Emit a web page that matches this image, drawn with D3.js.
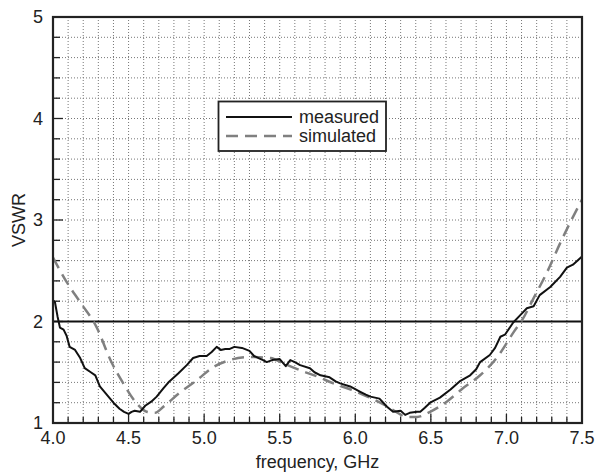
<!DOCTYPE html>
<html><head><meta charset="utf-8">
<script src="https://cdn.jsdelivr.net/npm/d3@7"></script>
<style>body{margin:0;background:#fff;}svg{display:block;font-family:"Liberation Sans",Arial,sans-serif;}</style>
</head><body>
<svg id="c" width="597" height="472"></svg>
<script>
const measuredFreq = [4.00,4.013,4.03,4.046,4.07,4.09,4.11,4.146,4.18,4.21,4.25,4.28,4.31,4.35,4.40,4.44,4.47,4.50,4.52,4.54,4.576,4.61,4.65,4.686,4.73,4.77,4.83,4.885,4.927,4.97,5.017,5.05,5.083,5.11,5.14,5.17,5.20,5.25,5.30,5.33,5.36,5.39,5.414,5.45,5.50,5.54,5.57,5.60,5.635,5.70,5.73,5.77,5.83,5.87,5.90,5.966,6.03,6.07,6.10,6.16,6.21,6.25,6.30,6.33,6.36,6.41,6.43,6.46,6.495,6.56,6.63,6.69,6.76,6.80,6.826,6.89,6.925,6.96,6.99,7.045,7.09,7.135,7.18,7.22,7.29,7.355,7.40,7.44,7.50];
const measuredVSWR = [2.21,2.19,2.05,1.94,1.92,1.86,1.75,1.72,1.64,1.54,1.50,1.47,1.36,1.29,1.20,1.14,1.11,1.09,1.11,1.12,1.11,1.17,1.21,1.26,1.34,1.41,1.49,1.57,1.64,1.66,1.66,1.70,1.75,1.72,1.73,1.73,1.75,1.74,1.71,1.66,1.64,1.62,1.60,1.62,1.63,1.56,1.62,1.60,1.57,1.54,1.50,1.47,1.45,1.41,1.39,1.36,1.31,1.28,1.26,1.24,1.16,1.11,1.12,1.08,1.10,1.11,1.11,1.15,1.20,1.25,1.33,1.41,1.47,1.53,1.60,1.67,1.74,1.85,1.87,1.99,2.06,2.13,2.15,2.26,2.34,2.44,2.53,2.56,2.64];
const simulatedFreq = [4.00,4.09,4.18,4.29,4.38,4.465,4.55,4.62,4.675,4.73,4.84,4.95,5.06,5.17,5.30,5.44,5.52,5.635,5.745,5.855,5.97,6.08,6.19,6.27,6.34,6.41,6.495,6.605,6.71,6.826,6.94,7.05,7.11,7.18,7.27,7.355,7.42,7.50];
const simulatedVSWR = [2.63,2.39,2.19,1.94,1.62,1.39,1.20,1.11,1.10,1.16,1.30,1.42,1.55,1.62,1.65,1.64,1.59,1.52,1.46,1.39,1.33,1.26,1.18,1.11,1.06,1.06,1.11,1.21,1.34,1.47,1.65,1.90,2.03,2.23,2.49,2.77,2.97,3.20];
const xTickLabels = ["4.0","4.5","5.0","5.5","6.0","6.5","7.0","7.5"];
const yTickLabels = ["1","2","3","4","5"];
const refLine = 2;
const legendLabels = ["measured","simulated"];

const L=53, R=582, T=17, B=423;
const svg = d3.select("#c");
const x = d3.scaleLinear().domain([4,7.5]).range([L,R]);
const y = d3.scaleLinear().domain([1,5]).range([B,T]);

// grid
const xMinor = d3.range(41,75).map(d=>d/10);
const yMinor = d3.range(6,25).map(d=>d/5);
const g = svg.append("g");
g.selectAll(".vx").data(xMinor).enter().append("line")
  .attr("x1",d=>x(d)).attr("x2",d=>x(d)).attr("y1",T).attr("y2",B)
  .attr("stroke","#777").attr("stroke-width",1).attr("stroke-dasharray","1,2");
g.selectAll(".hy").data(yMinor).enter().append("line")
  .attr("x1",L).attr("x2",R).attr("y1",d=>y(d)).attr("y2",d=>y(d))
  .attr("stroke","#777").attr("stroke-width",1).attr("stroke-dasharray","1,2");

// ticks inside
g.selectAll(".tx").data(xMinor).enter().append("line")
  .attr("x1",d=>x(d)).attr("x2",d=>x(d)).attr("y1",B).attr("y2",d=>Math.abs(d*2-Math.round(d*2))<1e-6?B-9:B-6)
  .attr("stroke","#222").attr("stroke-width",1.3);
g.selectAll(".ty").data(yMinor).enter().append("line")
  .attr("x1",L).attr("x2",d=>Math.abs(d-Math.round(d))<1e-6?L+10:L+7).attr("y1",d=>y(d)).attr("y2",d=>y(d))
  .attr("stroke","#222").attr("stroke-width",1.3);

// reference line
svg.append("line").attr("x1",L).attr("x2",R).attr("y1",y(refLine)).attr("y2",y(refLine))
  .attr("stroke","#111").attr("stroke-width",2);

// curves
const sim = simulatedFreq.map((f,i)=>[f,simulatedVSWR[i]]);
const meas = measuredFreq.map((f,i)=>[f,measuredVSWR[i]]);
svg.append("path").datum(sim)
  .attr("d",d3.line().x(d=>x(d[0])).y(d=>y(d[1])).curve(d3.curveMonotoneX))
  .attr("fill","none").attr("stroke","#808080").attr("stroke-width",2.5).attr("stroke-dasharray","12,7");
svg.append("path").datum(meas)
  .attr("d",d3.line().x(d=>x(d[0])).y(d=>y(d[1])))
  .attr("fill","none").attr("stroke","#111").attr("stroke-width",2).attr("stroke-linejoin","round");

// frame
svg.append("rect").attr("x",L).attr("y",T).attr("width",R-L).attr("height",B-T)
  .attr("fill","none").attr("stroke","#222").attr("stroke-width",2.2);

// tick labels
svg.selectAll(".xl").data(xTickLabels).enter().append("text")
  .attr("x",d=>x(+d)).attr("y",444).attr("text-anchor","middle")
  .attr("font-size",18).attr("fill","#222").text(d=>d);
svg.selectAll(".yl").data(yTickLabels).enter().append("text")
  .attr("x",43).attr("y",d=>y(+d)+6).attr("text-anchor","end")
  .attr("font-size",18).attr("fill","#222").text(d=>d);

// axis titles
svg.append("text").attr("x",(L+R)/2).attr("y",468).attr("text-anchor","middle")
  .attr("font-size",18).attr("fill","#222").text("frequency, GHz");
svg.append("text").attr("transform",`translate(25,${(T+B)/2}) rotate(-90)`).attr("text-anchor","middle")
  .attr("font-size",18).attr("fill","#222").text("VSWR");

// legend
const lg = svg.append("g");
lg.append("rect").attr("x",218.5).attr("y",101.5).attr("width",167.5).attr("height",49.5)
  .attr("fill","#fff").attr("stroke","#222").attr("stroke-width",1.8);
lg.append("line").attr("x1",226).attr("x2",292).attr("y1",117).attr("y2",117)
  .attr("stroke","#111").attr("stroke-width",2);
lg.append("line").attr("x1",226).attr("x2",292).attr("y1",136).attr("y2",136)
  .attr("stroke","#808080").attr("stroke-width",2.5).attr("stroke-dasharray","12,7");
lg.selectAll(".lt").data(legendLabels).enter().append("text")
  .attr("x",299).attr("y",(d,i)=>123+i*19).attr("font-size",18).attr("fill","#222").text(d=>d);
</script>
</body></html>
